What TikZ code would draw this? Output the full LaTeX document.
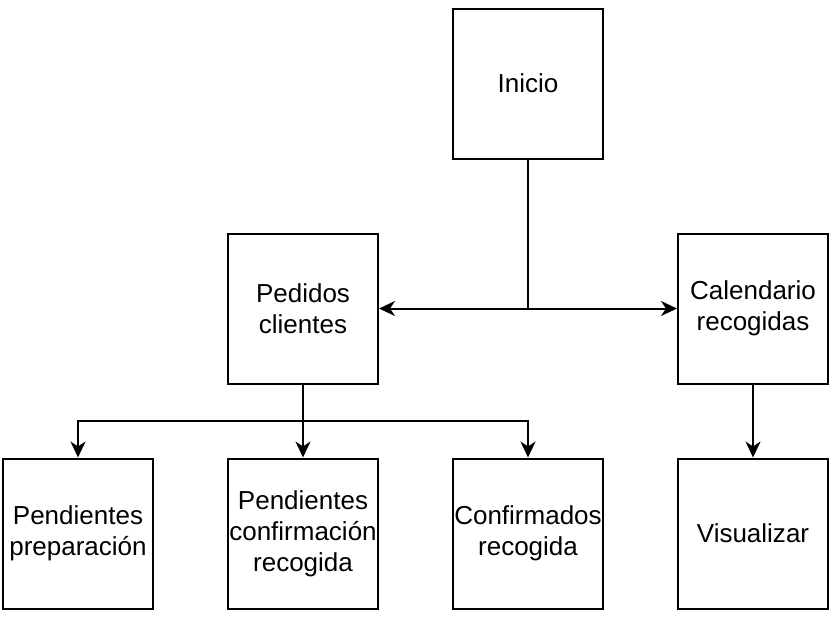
\documentclass[tikz,border=0pt]{standalone}
\usepackage{fontspec}
\setmainfont{Liberation Sans}
\usetikzlibrary{arrows.meta}

\tikzset{
  caja/.style={draw, line width=1pt, minimum width=75pt, minimum height=75pt,
    inner sep=0pt, align=center, font=\fontsize{13}{15.5}\selectfont},
  flecha/.style={line width=1pt, -{Stealth[length=8pt,width=7.5pt,inset=2.5pt]}},
  linea/.style={line width=1pt}
}

\begin{document}
\begin{tikzpicture}[x=0.5pt,y=-0.5pt]
    \useasboundingbox (0,0) rectangle (838,618);
    \node[caja] (inicio) at (528,83.5) {Inicio};
    \node[caja] (pedidos) at (303,308.5) {Pedidos\\clientes};
    \node[caja] (calendario) at (753,308.5) {Calendario\\recogidas};
    \node[caja] (preparacion) at (78,533.5) {Pendientes\\preparación};
    \node[caja] (confirmacion) at (303,533.5) {Pendientes\\confirmación\\recogida};
    \node[caja] (confirmados) at (528,533.5) {Confirmados\\recogida};
    \node[caja] (visualizar) at (753,533.5) {Visualizar};
    \coordinate (cruce) at (528,308.5);
    \coordinate (rama) at (303,421);
    \draw[linea] (inicio) -- (cruce);
    \draw[flecha] (cruce) -- (pedidos);
    \draw[flecha] (cruce) -- (calendario);
    \draw[linea] (pedidos) -- (rama);
    \draw[flecha] (rama) -| (preparacion);
    \draw[flecha] (rama) -- (confirmacion);
    \draw[flecha] (rama) -| (confirmados);
    \draw[flecha] (calendario) -- (visualizar);
\end{tikzpicture}
\end{document}
